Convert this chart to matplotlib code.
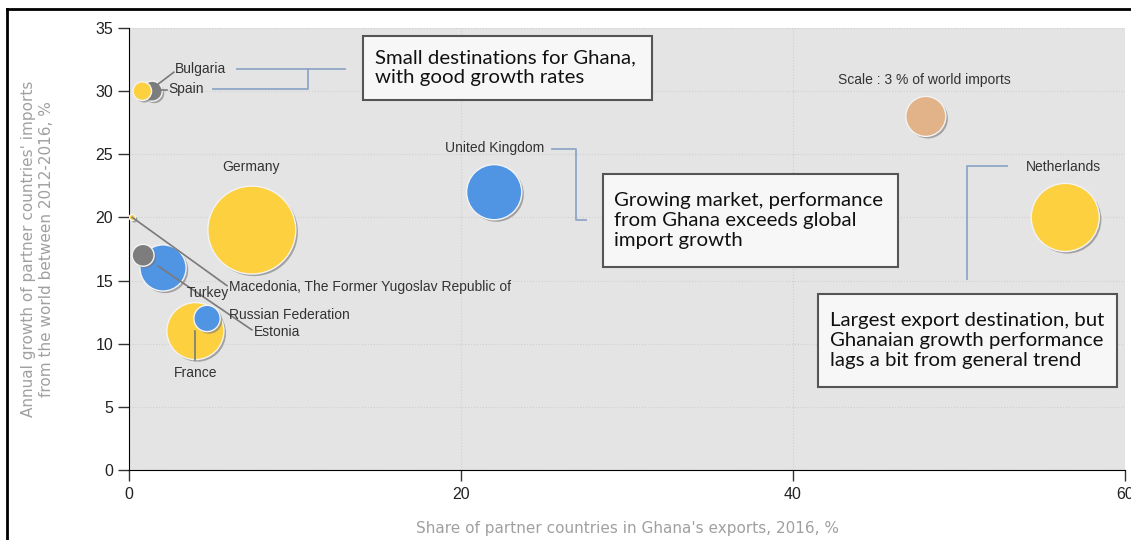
import matplotlib
matplotlib.use("Agg")
import matplotlib.pyplot as plt
import matplotlib.patheffects as pe
from matplotlib.lines import Line2D
from matplotlib.patches import Rectangle
import numpy as np

# bubble data
countries = ["Spain", "Bulgaria", "Germany", "United Kingdom", "Netherlands",
             "Macedonia, The Former Yugoslav Republic of", "Turkey", "Estonia",
             "France", "Russian Federation"]
share_exports = [0.8, 1.4, 7.4, 22.0, 56.4, 0.2, 0.85, 2.05, 4.0, 4.7]
import_growth = [30.0, 30.0, 19.0, 22.0, 20.0, 20.0, 17.0, 16.0, 11.0, 12.0]
world_imports = [0.65, 0.75, 14.5, 5.7, 8.7, 0.07, 0.9, 4.0, 6.1, 1.3]
colors = ["#fdd03f", "#7d7d7d", "#fdd03f", "#5094e4", "#fdd03f",
          "#fdd03f", "#7d7d7d", "#5094e4", "#fdd03f", "#5094e4"]

scale_x, scale_y, scale_val = 48.0, 28.0, 3.0

xticks = [0, 20, 40, 60]
yticks = [0, 5, 10, 15, 20, 25, 30, 35]

W, H, DPI = 1131, 540, 100
fig = plt.figure(figsize=(W / DPI, H / DPI), dpi=DPI)
ax = fig.add_axes([129 / W, 1 - 470 / H, 996 / W, 442 / H])
ax.set_facecolor("#e4e4e4")
ax.set_xlim(0, 60)
ax.set_ylim(0, 35)


def bubble_area(v):
    # radius 20 px for 3 % of world imports, area proportional
    r_px = 20 * np.sqrt(np.asarray(v) / scale_val)
    return (2 * r_px * 72 / DPI) ** 2


shadow = [pe.SimplePatchShadow(offset=(1.5, -1.5), shadow_rgbFace="#777777", alpha=0.6),
          pe.Normal()]

# draw bigger bubbles first
order = np.argsort(world_imports)[::-1]
for i in order:
    sc = ax.scatter(share_exports[i], import_growth[i], s=bubble_area(world_imports[i]),
                    c=colors[i], edgecolors="#f4f4f4", linewidths=1, zorder=3)
    sc.set_path_effects(shadow)

sc = ax.scatter(scale_x, scale_y, s=bubble_area(scale_val), c="#e2b388",
                edgecolors="#f4f4f4", linewidths=1, zorder=3)
sc.set_path_effects(shadow)

# axes styling
for s in ["top", "right"]:
    ax.spines[s].set_visible(False)
ax.spines["left"].set_color("black")
ax.spines["bottom"].set_color("black")
ax.set_xticks(xticks)
ax.set_yticks(yticks)
ax.tick_params(axis="both", length=8, width=1, color="#333333", labelcolor="#222222",
               labelsize=11.5)
ax.tick_params(axis="x", pad=4)
for lab in ax.get_xticklabels() + ax.get_yticklabels():
    lab.set_fontfamily("Liberation Sans")
ax.grid(True, color="#cfcfcf", linestyle=":", linewidth=0.8)
ax.set_axisbelow(True)

ax.set_xlabel("Share of partner countries in Ghana's exports, 2016, %",
              color="#a0a0a0", fontsize=11, labelpad=14)
ax.set_ylabel("Annual growth of partner countries' imports\nfrom the world between 2012-2016, %",
              color="#a0a0a0", fontsize=11, labelpad=30)

lab_kw = dict(fontsize=10, color="#333333", family="Liberation Sans", zorder=5)
ax.text(2.75, 31.75, "Bulgaria", va="center", **lab_kw)
ax.text(2.35, 30.17, "Spain", va="center", **lab_kw)
ax.text(7.35, 24.0, "Germany", ha="center", va="center", **lab_kw)
ax.text(22.05, 25.5, "United Kingdom", ha="center", va="center", **lab_kw)
ax.text(56.3, 24.0, "Netherlands", ha="center", va="center", **lab_kw)
ax.text(47.9, 30.9, "Scale : 3 % of world imports", ha="center", va="center", **lab_kw)
ax.text(6.0, 14.5, "Macedonia, The Former Yugoslav Republic of", va="center", **lab_kw)
ax.text(3.5, 14.0, "Turkey", va="center", **lab_kw)
ax.text(6.0, 12.3, "Russian Federation", va="center", **lab_kw)
ax.text(7.5, 10.9, "Estonia", va="center", **lab_kw)
ax.text(4.0, 7.7, "France", ha="center", va="center", **lab_kw)

# leader lines from bubbles to labels
lead = dict(color="#7a7a7a", linewidth=1.2, zorder=4)
ax.plot([1.6, 2.7], [30.4, 31.5], **lead)
ax.plot([1.9, 2.3], [30.1, 30.1], **lead)
ax.plot([0.2, 5.9], [20.0, 14.6], **lead)
ax.plot([1.75, 7.4], [16.15, 11.1], **lead)
ax.plot([4.0, 4.0], [11.0, 8.7], **lead)

# bracket lines to the comment boxes
br = dict(color="#8ea6c6", linewidth=1.3, zorder=2)
ax.plot([6.5, 13.0], [31.75, 31.75], **br)
ax.plot([5.06, 10.8, 10.8], [30.17, 30.17, 31.75], **br)
ax.plot([25.5, 26.9, 26.9, 27.5], [25.4, 25.4, 19.8, 19.8], **br)
ax.plot([52.9, 50.5, 50.5], [24.07, 24.07, 15.1], **br)

# comment boxes
boxes = [
    (14.1, 29.3, 17.4, 5.1, 14.8, "Small destinations for Ghana,\nwith good growth rates"),
    (28.55, 16.1, 17.75, 7.3, 29.2, "Growing market, performance\nfrom Ghana exceeds global\nimport growth"),
    (41.5, 6.6, 18.0, 7.3, 42.2, "Largest export destination, but\nGhanaian growth performance\nlags a bit from general trend"),
]
for x0, y0, w, h, tx, txt in boxes:
    ax.add_patch(Rectangle((x0, y0), w, h, facecolor="#f7f7f7", edgecolor="#555555",
                           linewidth=1.5, zorder=6))
    ax.text(tx, y0 + h / 2, txt, ha="left", va="center", fontsize=14.7, family="Lato",
            color="#111111", linespacing=1.2, zorder=7)

# outer frame of the screenshot
fig.add_artist(Line2D([7 / W, 1], [1 - 9 / H, 1 - 9 / H], color="black", linewidth=2))
fig.add_artist(Line2D([7 / W, 7 / W], [0, 1 - 9 / H], color="black", linewidth=2))

fig.savefig("out.png", dpi=DPI)
